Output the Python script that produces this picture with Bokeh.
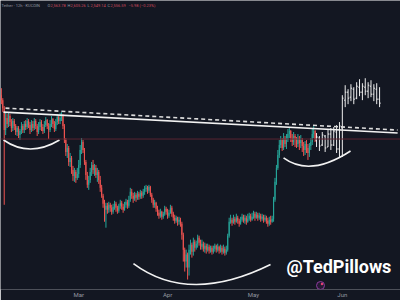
import numpy as np
from bokeh.plotting import figure
from bokeh.models import Range1d, FixedTicker, Span, ColumnDataSource
from bokeh.core.properties import value
from bokeh.embed import file_html
from bokeh.resources import INLINE

# ---------------- data (ETH/USDT 12h) ----------------
candle_start_day = 1.0      # days after Feb 1
candle_step = 0.5           # 12h candles
first_open = 3050

closes = [
    3000, 2920, 2700, 2820, 2760, 2840, 2780, 2720, 2790, 2740,
    2680, 2720, 2650, 2690, 2740, 2700, 2760, 2730, 2790, 2750,
    2700, 2760, 2720, 2790, 2740, 2680, 2730, 2780, 2730, 2690,
    2750, 2800, 2740, 2700, 2760, 2810, 2760, 2710, 2780, 2830,
    2790, 2820, 2840, 2740, 2600, 2480, 2520, 2380, 2420, 2300,
    2240, 2280, 2220, 2260, 2350, 2500, 2580, 2500, 2380, 2250,
    2150, 2200, 2280, 2350, 2300, 2320, 2250, 2280, 2200, 2120,
    2040, 1960, 1900, 1940, 1900, 1950, 1920, 1880, 1930, 1960,
    1920, 1890, 1940, 1970, 1930, 1900, 1950, 1980, 1940, 2000,
    2080, 2040, 2010, 2050, 2020, 2060, 2030, 2070, 2040, 2080,
    2110, 2120, 2090, 2130, 2050, 2000, 1950, 1970, 1910, 1870,
    1840, 1880, 1830, 1860, 1910, 1880, 1840, 1870, 1920, 1860,
    1820, 1790, 1820, 1780, 1800, 1760, 1650, 1500, 1380, 1450,
    1320, 1500, 1550, 1480, 1580, 1520, 1560, 1620, 1570, 1530,
    1560, 1510, 1540, 1500, 1530, 1490, 1520, 1480, 1510, 1540,
    1500, 1530, 1490, 1520, 1480, 1510, 1470, 1500, 1640, 1780,
    1800, 1770, 1810, 1780, 1820, 1790, 1760, 1800, 1830, 1790,
    1820, 1780, 1810, 1840, 1800, 1830, 1860, 1820, 1850, 1820,
    1840, 1810, 1830, 1800, 1820, 1790, 1760, 1800, 1780, 1810,
    2000, 2180, 2320, 2450, 2550, 2600, 2520, 2620, 2560, 2600,
    2660, 2690, 2620, 2580, 2640, 2600, 2560, 2620, 2570, 2600,
    2540, 2500, 2560, 2520, 2470, 2540, 2580, 2660, 2690, 2610,
]
highs = [
    3120, 3020, 2940, 2880, 2860, 2870, 2860, 2810, 2820, 2810,
    2760, 2740, 2740, 2710, 2780, 2760, 2790, 2800, 2820, 2810,
    2780, 2800, 2790, 2820, 2810, 2760, 2780, 2810, 2800, 2760,
    2790, 2830, 2810, 2770, 2800, 2840, 2820, 2790, 2810, 2860,
    2850, 2870, 2880, 2860, 2760, 2620, 2560, 2540, 2470, 2440,
    2340, 2320, 2300, 2320, 2400, 2550, 2620, 2600, 2520, 2400,
    2280, 2240, 2320, 2380, 2400, 2360, 2350, 2320, 2300, 2240,
    2150, 2060, 2000, 1970, 1970, 1980, 1970, 1950, 1960, 1990,
    1980, 1940, 1960, 2000, 1990, 1960, 1980, 2010, 2000, 2040,
    2120, 2110, 2070, 2080, 2070, 2090, 2080, 2100, 2090, 2110,
    2140, 2150, 2140, 2150, 2140, 2070, 2020, 2000, 1980, 1940,
    1900, 1910, 1890, 1880, 1940, 1930, 1910, 1900, 1950, 1940,
    1880, 1850, 1840, 1830, 1830, 1820, 1780, 1670, 1520, 1500,
    1470, 1550, 1600, 1570, 1620, 1600, 1590, 1650, 1640, 1600,
    1600, 1580, 1570, 1560, 1560, 1550, 1540, 1540, 1540, 1560,
    1550, 1560, 1540, 1550, 1540, 1550, 1530, 1540, 1660, 1820,
    1850, 1820, 1850, 1830, 1860, 1840, 1810, 1830, 1860, 1850,
    1850, 1840, 1860, 1870, 1860, 1870, 1890, 1880, 1880, 1870,
    1870, 1860, 1860, 1850, 1850, 1840, 1820, 1830, 1840, 1840,
    2030, 2220, 2350, 2500, 2600, 2640, 2620, 2670, 2640, 2660,
    2710, 2730, 2700, 2660, 2680, 2660, 2630, 2660, 2640, 2650,
    2620, 2580, 2590, 2600, 2560, 2570, 2620, 2720, 2740, 2700,
]
lows = [
    2960, 2880, 1950, 2650, 2720, 2730, 2740, 2680, 2690, 2700,
    2650, 2640, 2620, 2600, 2660, 2670, 2670, 2700, 2710, 2720,
    2660, 2680, 2690, 2700, 2710, 2640, 2660, 2700, 2690, 2660,
    2670, 2730, 2710, 2610, 2680, 2730, 2720, 2680, 2690, 2750,
    2760, 2760, 2790, 2710, 2570, 2440, 2420, 2340, 2330, 2260,
    2190, 2180, 2170, 2200, 2220, 2320, 2460, 2470, 2350, 2200,
    2120, 2100, 2170, 2240, 2260, 2240, 2220, 2180, 2160, 2080,
    2020, 1920, 1780, 1720, 1860, 1870, 1880, 1850, 1860, 1900,
    1880, 1860, 1870, 1910, 1900, 1870, 1890, 1920, 1910, 1920,
    1980, 2010, 1970, 1990, 1980, 2000, 2000, 2010, 2010, 2020,
    2050, 2080, 2060, 2070, 2030, 1970, 1920, 1920, 1880, 1840,
    1810, 1820, 1800, 1810, 1840, 1850, 1810, 1820, 1860, 1830,
    1790, 1760, 1770, 1740, 1750, 1730, 1600, 1380, 1280, 1320,
    1200, 1240, 1450, 1420, 1440, 1480, 1500, 1520, 1540, 1500,
    1500, 1480, 1470, 1460, 1480, 1460, 1470, 1450, 1460, 1480,
    1470, 1480, 1460, 1470, 1450, 1460, 1440, 1450, 1480, 1620,
    1760, 1740, 1760, 1750, 1770, 1760, 1730, 1750, 1780, 1770,
    1760, 1750, 1770, 1790, 1780, 1790, 1810, 1790, 1810, 1790,
    1800, 1780, 1790, 1770, 1780, 1760, 1730, 1740, 1750, 1770,
    1780, 1980, 2150, 2300, 2420, 2520, 2490, 2500, 2530, 2510,
    2580, 2620, 2580, 2540, 2550, 2530, 2520, 2530, 2500, 2520,
    2480, 2440, 2450, 2470, 2400, 2430, 2500, 2550, 2620, 2580,
]

# projected (drawn) bars pattern, daily spacing
proj_start_day = 111
proj_step = 1.0
proj_open = [2600, 2620, 2550, 2640, 2530, 2660, 2550, 2680, 2510, 2720, 3000, 3080,
             3030, 3110, 3020, 3130, 3080, 3130, 3090, 3140, 3060, 3110, 3010]
proj_high = [2670, 2640, 2680, 2650, 2700, 2720, 2730, 2750, 2780, 3050, 3150, 3110,
             3160, 3130, 3180, 3210, 3170, 3220, 3180, 3200, 3160, 3170, 3130]
proj_low = [2530, 2490, 2540, 2480, 2530, 2500, 2540, 2470, 2430, 2430, 2930, 2960,
            2990, 2960, 3010, 3040, 3000, 3050, 3020, 3030, 2990, 2960, 2930]
proj_close = [2630, 2540, 2650, 2520, 2660, 2550, 2690, 2510, 2740, 3020, 3080, 3020,
              3120, 3010, 3140, 3080, 3140, 3090, 3150, 3060, 3120, 3010, 2970]

tick_days = [28, 59, 89, 120]
tick_labels = ["Mar", "Apr", "May", "Jun"]

# trend lines (day, price)
solid_x = [1.75, 139.3]
solid_y = [2880, 2670]
dashed_x = [2.44, 139.3]
dashed_y = [2920, 2700]
# cup arcs as quadratic curves: start, end, control
arc_x0 = [1.75, 47.1, 99.48]
arc_y0 = [2600, 1360, 2420]
arc_x1 = [21.29, 94.94, 122.86]
arc_y1 = [2600, 1350, 2490]
arc_cx = [10.82, 66.5, 108.73]
arc_cy = [2420, 945, 2225]

last_price = 2610
header_name = "Tether · 12h · KUCOIN"
header_keys = ["O", "H", "L", "C"]
header_vals = ["2,563.78", "2,605.26", "2,549.14", "2,556.59"]
header_change = "−5.98 (−0.23%)"
watermark = "@TedPillows"

# ---------------- layout helpers ----------------
BG = "#131722"
UP = "#26a69a"
DN = "#ef5350"
W, H = 400, 300
BOTTOM = 10
X0, X1 = 0.7, 140.3
Y0, Y1 = 4000 - 10 * (H - BOTTOM), 4000


def px_day(px):
    return X0 + px * (X1 - X0) / W


def py_price(py):
    return Y1 - py * (Y1 - Y0) / (H - BOTTOM)


p = figure(width=W, height=H, output_backend="svg", toolbar_location=None,
           x_range=Range1d(X0, X1), y_range=Range1d(Y0, Y1),
           min_border_left=0, min_border_right=0, min_border_top=0,
           min_border_bottom=BOTTOM)
p.background_fill_color = BG
p.border_fill_color = BG
p.outline_line_color = None
p.grid.visible = False
p.yaxis.visible = False
ax = p.xaxis[0]
ax.ticker = FixedTicker(ticks=tick_days)
ax.major_label_overrides = {d: l for d, l in zip(tick_days, tick_labels)}
ax.axis_line_color = None
ax.major_tick_line_color = None
ax.minor_tick_line_color = None
ax.major_tick_in = 0
ax.major_tick_out = 0
ax.major_label_standoff = 1
ax.major_label_text_font = "Roboto"
ax.major_label_text_font_size = "6px"
ax.major_label_text_color = "#9598a1"

# price line
p.add_layout(Span(location=last_price, dimension="width", line_color="#5a2532", line_width=1))

# candles
n = len(closes)
t = candle_start_day + candle_step * np.arange(n)
opens = [first_open] + closes[:-1]
o = np.array(opens, float)
c = np.array(closes, float)
hi = np.maximum(np.array(highs, float), np.maximum(o, c))
lo = np.minimum(np.array(lows, float), np.minimum(o, c))
col = [UP if cc >= oo else DN for oo, cc in zip(o, c)]
src = ColumnDataSource(dict(t=t, o=o, c=c, hi=hi, lo=lo,
                            top=np.maximum(o, c), bot=np.minimum(o, c), col=col))
p.segment("t", "hi", "t", "lo", source=src, line_color="col", line_width=1)
p.vbar(x="t", width=0.38, top="top", bottom="bot", source=src,
       fill_color="col", line_color=None)

# projected bars (white)
m = len(proj_close)
tp = proj_start_day + proj_step * np.arange(m)
psrc = ColumnDataSource(dict(t=tp, o=proj_open, c=proj_close, hi=proj_high, lo=proj_low,
                             tl=tp - 0.4, tr=tp + 0.4))
p.segment("t", "hi", "t", "lo", source=psrc, line_color="#eeeeee", line_width=1)
p.segment("tl", "o", "t", "o", source=psrc, line_color="#eeeeee", line_width=1)
p.segment("t", "c", "tr", "c", source=psrc, line_color="#eeeeee", line_width=1)

# trend lines
p.line(dashed_x, dashed_y, line_color="#dcdcdc", line_width=1.6, line_dash="4 3")
p.line(solid_x, solid_y, line_color="#f2f2f2", line_width=1.6)
p.quadratic(x0=arc_x0, y0=arc_y0, x1=arc_x1, y1=arc_y1, cx=arc_cx, cy=arc_cy,
            line_color="#f2f2f2", line_width=1.6)

# header
hy = py_price(5)
p.text(x=[px_day(1)], y=[hy], text=[header_name], text_font=value("Roboto"),
       text_font_size="4px", text_color="#9598a1", text_baseline="middle")
kx = [47, 67, 87, 107]
p.text(x=[px_day(v) for v in kx], y=[hy] * 4, text=header_keys, text_font=value("Roboto"),
       text_font_size="4px", text_color="#9598a1", text_baseline="middle")
p.text(x=[px_day(v + 3) for v in kx], y=[hy] * 4, text=header_vals, text_font=value("Roboto"),
       text_font_size="4px", text_color="#c8475c", text_baseline="middle")
p.text(x=[px_day(128)], y=[hy], text=[header_change], text_font=value("Roboto"),
       text_font_size="4px", text_color="#c8475c", text_baseline="middle")

# watermark
p.text(x=[px_day(286)], y=[py_price(267)], text=[watermark], text_font=value("Roboto"),
       text_font_style="bold", text_font_size="18px", text_color="#ffffff",
       text_baseline="alphabetic")

# small icon
p.scatter([px_day(320)], [py_price(286)], size=8, marker="circle",
          fill_color="#241b33", line_color="#8e3a9e", line_width=1)
p.scatter([px_day(321.5)], [py_price(284.5)], size=2.5, marker="circle",
          fill_color="#e04070", line_color=None)

open("out.html", "w").write(file_html(p, INLINE))
